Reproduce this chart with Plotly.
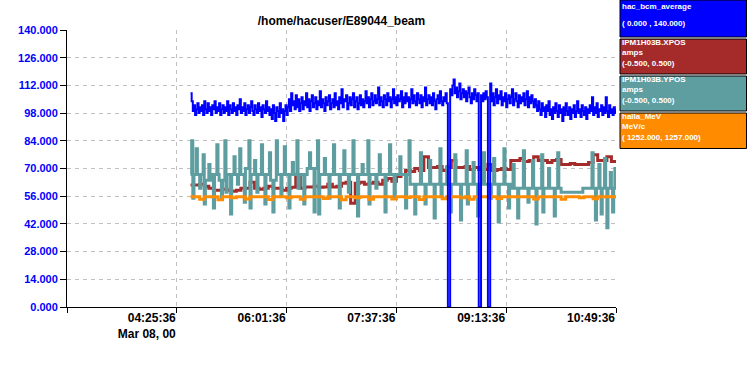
import pandas as pd
import plotly.graph_objects as go

# ---------------- data ----------------
DAY = "2000-03-08"
fast_start = DAY + " 04:37:36"   # hac_bcm_average and YPOS sampling start (1 min step)
slow_start = DAY + " 04:37:36"   # XPOS and halla_MeV sampling start (4 min step)

bcm_average = [
    108, 104, 99, 102, 97, 100, 103, 98, 101, 99,
    102, 97, 104, 100, 98, 103, 99, 101, 97, 102,
    100, 104, 98, 101, 99, 103, 97, 100, 102, 98,
    101, 99, 104, 97, 102, 100, 98, 103, 99, 101,
    97, 102, 100, 105, 98, 101, 99, 103, 97, 100,
    102, 98, 101, 104, 99, 97, 102, 100, 98, 103,
    99, 101, 96, 102, 100, 98, 104, 99, 101, 97,
    100, 95, 102, 98, 94, 101, 99, 96, 103, 98,
    100, 94, 99, 102, 97, 101, 105, 99, 108, 102,
    104, 100, 107, 101, 105, 99, 103, 106, 100, 104,
    102, 108, 101, 105, 99, 104, 107, 101, 103, 106,
    100, 104, 102, 109, 101, 105, 103, 99, 106, 102,
    104, 107, 100, 103, 105, 101, 108, 102, 104, 100,
    106, 103, 110, 101, 105, 104, 107, 100, 103, 106,
    102, 105, 108, 101, 104, 106, 100, 103, 107, 102,
    105, 101, 104, 109, 103, 106, 101, 105, 108, 102,
    104, 107, 103, 105, 111, 102, 106, 104, 101, 107,
    105, 102, 108, 104, 106, 101, 105, 110, 103, 106,
    102, 107, 104, 105, 109, 101, 106, 103, 108, 104,
    106, 101, 105, 110, 103, 107, 104, 102, 108, 105,
    103, 107, 101, 106, 104, 111, 102, 105, 107, 103,
    106, 102, 108, 104, 100, 105, 107, 103, 109, 104,
    102, 106, 104, 108, 103, 0, 0, 110, 107, 112,
    115, 108, 111, 106, 109, 113, 105, 108, 110, 106,
    109, 104, 108, 111, 106, 103, 108, 105, 110, 107,
    104, 108, 0, 0, 107, 104, 108, 105, 109, 106,
    0, 0, 113, 104, 108, 102, 106, 110, 103, 107,
    105, 109, 102, 106, 104, 108, 101, 105, 107, 103,
    106, 110, 102, 105, 108, 104, 101, 107, 103, 106,
    104, 108, 102, 105, 109, 101, 106, 103, 107, 104,
    101, 105, 102, 99, 104, 100, 97, 103, 99, 101,
    96, 102, 99, 104, 97, 100, 95, 101, 98, 103,
    99, 96, 102, 98, 100, 94, 101, 97, 103, 99,
    97, 101, 95, 100, 98, 102, 96, 99, 104, 98,
    100, 96, 102, 99, 97, 101, 95, 100, 98, 102,
    99, 106, 97, 101, 98, 103, 96, 100, 99, 102,
    97, 101, 98, 106, 99, 96, 102, 98, 100, 97,
    101, 98, 100,
]

ypos = [
    67, 84, 55, 67, 67, 80, 67, 67, 60, 67,
    67, 77, 52, 64, 64, 64, 72, 64, 67, 67,
    50, 67, 67, 82, 67, 64, 64, 55, 64, 64,
    84, 58, 67, 67, 67, 47, 67, 67, 76, 67,
    67, 62, 67, 80, 67, 67, 67, 53, 70, 70,
    70, 84, 50, 67, 67, 67, 74, 67, 58, 67,
    67, 67, 82, 67, 67, 52, 67, 67, 67, 78,
    64, 64, 48, 64, 64, 84, 67, 67, 67, 56,
    67, 67, 81, 67, 67, 67, 50, 67, 67, 73,
    67, 67, 67, 84, 60, 67, 67, 67, 67, 52,
    67, 67, 70, 70, 78, 70, 70, 70, 48, 70,
    70, 84, 47, 67, 67, 67, 67, 75, 67, 67,
    67, 55, 67, 67, 67, 82, 67, 67, 67, 67,
    50, 67, 67, 67, 79, 67, 67, 67, 58, 67,
    67, 67, 84, 67, 67, 67, 46, 67, 67, 67,
    72, 67, 67, 67, 67, 84, 52, 67, 67, 67,
    67, 67, 60, 67, 67, 77, 67, 67, 67, 67,
    48, 67, 67, 67, 82, 67, 67, 67, 55, 67,
    67, 67, 67, 76, 67, 67, 67, 67, 50, 67,
    67, 84, 62, 62, 62, 62, 47, 62, 62, 62,
    62, 78, 62, 62, 62, 52, 62, 62, 62, 74,
    62, 62, 62, 45, 62, 62, 62, 62, 80, 56,
    62, 62, 62, 62, 71, 62, 62, 48, 62, 62,
    62, 77, 62, 62, 62, 62, 44, 62, 62, 62,
    62, 79, 52, 62, 62, 62, 62, 73, 62, 62,
    62, 46, 62, 62, 62, 62, 78, 62, 62, 62,
    62, 62, 55, 62, 62, 75, 62, 62, 62, 43,
    62, 62, 62, 62, 80, 62, 62, 62, 50, 62,
    60, 60, 72, 60, 60, 60, 45, 60, 60, 60,
    60, 79, 60, 60, 60, 53, 60, 60, 60, 74,
    60, 60, 42, 60, 60, 60, 60, 77, 48, 60,
    60, 60, 60, 70, 60, 60, 60, 60, 46, 60,
    60, 78, 60, 60, 58, 58, 58, 58, 58, 58,
    58, 58, 58, 58, 58, 58, 58, 58, 58, 58,
    58, 58, 58, 60, 60, 60, 60, 60, 60, 60,
    60, 78, 60, 60, 44, 60, 60, 72, 60, 47,
    60, 60, 75, 60, 40, 60, 60, 68, 60, 48,
    60, 70, 60,
]

xpos = [
    61.6, 61.6, 62, 61, 60, 59, 59, 59.5, 59, 58.5,
    59, 60, 60, 63, 60, 59.5, 60, 61, 60, 60,
    59, 60, 60.5, 66, 60, 60.7, 60.7, 61, 60.5, 60.7,
    62, 60.7, 61, 62.5, 63, 52.5, 62.5, 63, 62, 62.5,
    63, 62, 64, 65, 63.5, 66, 67, 69, 68.5, 70,
    69, 76, 70.5, 70.5, 71, 69, 70.5, 74, 70.5, 70.5,
    71, 69.5, 70.5, 69.5, 69.5, 72, 69, 69.5, 70, 69.5,
    74, 74, 75, 73.5, 74, 76, 74, 74, 73, 74,
    74.5, 72, 72, 72.5, 72, 72, 72, 73, 77, 74,
    74, 76, 73.5, 74,
]

halla_mev = [
    55.7, 55.7, 54.5, 55.7, 55.7, 55.7, 54.2, 55.7, 55.7, 55.2,
    55.7, 55.7, 54.6, 55.7, 55.7, 55.7, 55.7, 54.3, 55.7, 55.7,
    55.7, 55.2, 55.7, 55.7, 54.4, 55.7, 55.7, 55.7, 55.7, 54.8,
    55.7, 55.7, 55.7, 54.2, 55.7, 55.7, 55.2, 55.7, 55.7, 54.5,
    55.7, 55.7, 55.7, 55.7, 54.6, 55.7, 55.7, 55.3, 55.7, 55.7,
    54.3, 55.7, 55.7, 55.7, 55.7, 54.7, 55.7, 55.7, 55.7, 55.2,
    55.7, 54.4, 55.7, 55.7, 55.7, 55.7, 55.7, 54.8, 55.7, 55.7,
    55.7, 55.7, 55.7, 55.7, 55.7, 54.6, 55.7, 55.7, 55.7, 55.7,
    55.7, 54.5, 55.7, 55.7, 55.7, 55.2, 55.7, 55.7, 54.7, 55.7,
    55.7, 55.7, 55.7, 55.7,
]

x_ticks = ["02:49:36", "04:25:36", "06:01:36", "07:37:36", "09:13:36", "10:49:36"]
x_tick_text = ["", "04:25:36<br>Mar 08, 00", "06:01:36", "07:37:36", "09:13:36", "10:49:36"]
y_ticks = [0, 14, 28, 42, 56, 70, 84, 98, 112, 126, 140]

legend_names = ["hac_bcm_average", "IPM1H03B.XPOS", "IPM1H03B.YPOS", "halla_MeV"]
legend_units = ["", "amps", "amps", "MeV/c"]
legend_ranges = ["( 0.000 , 140.000)", "(-0.500, 0.500)", "(-0.500, 0.500)", "( 1252.000, 1257.000)"]
colors = ["#0000ff", "#a52a2a", "#5f9ea0", "#ff8c00"]

title_text = "/home/hacuser/E89044_beam"

# ---------------- figure ----------------
t_bcm = pd.date_range(fast_start, periods=len(bcm_average), freq="1min")
t_ypos = pd.date_range(fast_start, periods=len(ypos), freq="1min")
t_xpos = pd.date_range(slow_start, periods=len(xpos), freq="4min")
t_mev = pd.date_range(slow_start, periods=len(halla_mev), freq="4min")

fig = go.Figure()
fig.add_trace(go.Scatter(x=t_xpos, y=xpos, mode="lines", line=dict(color=colors[1], width=3, shape="hv")))
fig.add_trace(go.Scatter(x=t_ypos, y=ypos, mode="lines", line=dict(color=colors[2], width=3, shape="hv")))
fig.add_trace(go.Scatter(x=t_mev, y=halla_mev, mode="lines", line=dict(color=colors[3], width=3, shape="hv")))
fig.add_trace(go.Scatter(x=t_bcm, y=bcm_average, mode="lines", line=dict(color=colors[0], width=2, shape="hv")))

L, R, T, B = 67, 616, 30, 307
W, H = 748, 375


def px2x(px):
    return (px - L) / (R - L)


def px2y(py):
    return (B - py) / (B - T)


FONT = "Liberation Sans"
LEG_FONT = dict(family=FONT, size=8, color="white", weight="bold")

# legend boxes (pixel geometry of the reference)
box_rows = [(0, 37), (39, 74), (76, 111), (113, 148.5)]
shapes = []
annotations = []
for i, (y0, y1) in enumerate(box_rows):
    shapes.append(dict(type="rect", xref="paper", yref="paper",
                       x0=px2x(620), x1=px2x(746.5), y0=px2y(y1), y1=px2y(y0),
                       fillcolor=colors[i], line=dict(color="black", width=1), layer="above"))
    if legend_units[i]:
        txt = "<br>".join([legend_names[i], legend_units[i], legend_ranges[i]])
        annotations.append(dict(text=txt, xref="paper", yref="paper", x=px2x(620.5), y=px2y(y0 + 14),
                                xanchor="left", yanchor="middle", align="left", showarrow=False,
                                borderpad=0, font=LEG_FONT))
    else:
        for txt, yy in ((legend_names[i], 6.5), (legend_ranges[i], 24)):
            annotations.append(dict(text=txt, xref="paper", yref="paper", x=px2x(620.5), y=px2y(yy),
                                    xanchor="left", yanchor="middle", align="left", showarrow=False,
                                    borderpad=0, font=LEG_FONT))

fig.update_layout(
    width=W, height=H, autosize=False,
    margin=dict(l=L, r=W - R, t=T, b=H - B, pad=0),
    paper_bgcolor="white", plot_bgcolor="white",
    showlegend=False,
    title=dict(text=title_text, x=px2x(341.5), xref="paper", xanchor="center",
               y=1 - 21 / H, yref="container", yanchor="middle",
               font=dict(family=FONT, size=12, color="black", weight="bold")),
    shapes=shapes, annotations=annotations,
    font=dict(family=FONT),
)

fig.update_xaxes(
    type="date",
    range=[DAY + " " + x_ticks[0], DAY + " " + x_ticks[-1]],
    tickvals=[DAY + " " + t for t in x_ticks], ticktext=x_tick_text,
    ticklabelposition="outside left",
    tickfont=dict(family=FONT, size=12, color="black", weight="bold"),
    ticks="outside", ticklen=5, tickcolor="black",
    showline=True, linecolor="black", linewidth=1,
    showgrid=True, gridcolor="#c0c0c0", griddash="4px,4px", gridwidth=1,
    zeroline=False,
)
fig.update_yaxes(
    range=[0, 140], tickvals=y_ticks, tickformat=".3f",
    tickfont=dict(family=FONT, size=11, color="#0000ff", weight="bold"),
    ticks="outside", ticklen=6, tickcolor="black",
    showline=True, linecolor="black", linewidth=1,
    showgrid=True, gridcolor="#c0c0c0", griddash="4px,4px", gridwidth=1,
    zeroline=False,
)

fig.write_html("out.html", config={"displayModeBar": False},
               post_script="document.body.style.margin='0';")
